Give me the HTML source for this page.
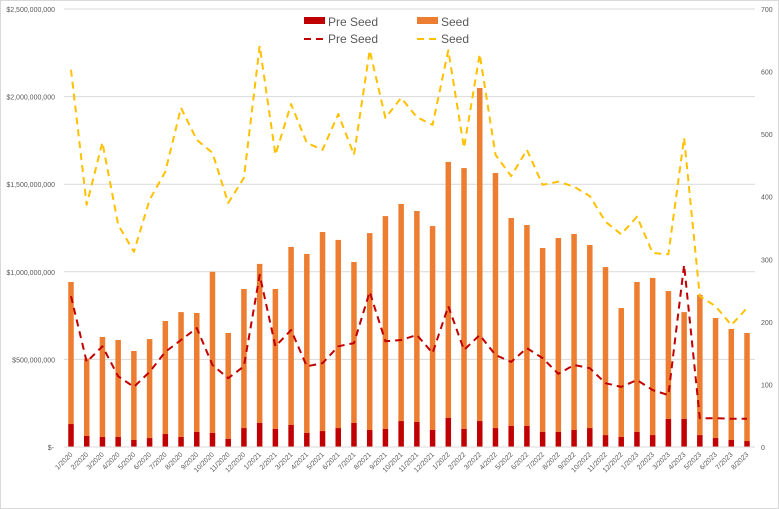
<!DOCTYPE html>
<html><head><meta charset="utf-8"><style>
html,body{margin:0;padding:0;background:#fff;}
svg{display:block;font-family:"Liberation Sans",sans-serif;}
</style></head><body>
<svg id="chart" width="779" height="509" xmlns="http://www.w3.org/2000/svg">
<rect x="0.5" y="0.5" width="778" height="508" fill="#fff" stroke="#d9d9d9"/>
<g id="grid"></g><g id="bars"></g><g id="lines"></g><g id="axes"></g>
<g font-size="12" fill="#595959">
<rect x="304" y="17" width="21" height="7" fill="#c00000"/>
<text x="328" y="26">Pre Seed</text>
<rect x="417" y="17" width="21" height="7" fill="#ed7d31"/>
<text x="441" y="26">Seed</text>
<line x1="304" y1="39" x2="325" y2="39" stroke="#c00000" stroke-width="2" stroke-dasharray="7,5"/>
<text x="328" y="43">Pre Seed</text>
<line x1="417" y1="39" x2="438" y2="39" stroke="#ffc000" stroke-width="2" stroke-dasharray="7,5"/>
<text x="441" y="43">Seed</text>
</g>
</svg>
<script>
const months=["1/2020","2/2020","3/2020","4/2020","5/2020","6/2020","7/2020","8/2020","9/2020","10/2020","11/2020","12/2020","1/2021","2/2021","3/2021","4/2021","5/2021","6/2021","7/2021","8/2021","9/2021","10/2021","11/2021","12/2021","1/2022","2/2022","3/2022","4/2022","5/2022","6/2022","7/2022","8/2022","9/2022","10/2022","11/2022","12/2022","1/2023","2/2023","3/2023","4/2023","5/2023","6/2023","7/2023","8/2023"];
// total amount (Pre Seed + Seed), millions USD
const totalAmount=[942,505,628,611,548,616,719,770,765,1000,651,902,1045,902,1142,1102,1227,1182,1056,1221,1318,1387,1347,1261,1627,1592,2049,1564,1307,1267,1136,1193,1216,1153,1027,793,942,965,890,770,868,736,674,651];
const preSeedAmount=[131,63,57,57,40,51,74,57,86,80,46,108,137,103,126,80,91,108,137,97,103,148,143,97,166,103,148,108,120,120,86,86,97,108,68,57,86,68,160,160,68,51,40,34];
const seedCount=[603,387,487,355,312,395,440,542,491,470,390,430,641,467,548,486,475,532,467,634,526,558,527,515,634,478,628,467,433,475,419,424,416,401,360,340,368,310,308,494,241,225,195,222];
const preSeedCount=[241,136,161,113,96,120,152,171,190,131,110,129,275,161,187,129,134,161,166,248,169,171,179,150,225,155,179,147,136,158,142,117,131,126,102,96,107,91,83,291,46,46,45,45];
const leftTicks=[0,500,1000,1500,2000,2500];
const leftTickLabels=["$-","$500,000,000","$1,000,000,000","$1,500,000,000","$2,000,000,000","$2,500,000,000"];
const rightTicks=[0,100,200,300,400,500,600,700];

const NS="http://www.w3.org/2000/svg";
const y0=447,yTop=9,xL=64,xR=755;
const yL=v=>y0-(v/2500)*(y0-yTop);
const yR=v=>y0-(v/700)*(y0-yTop);
const step=(747-71)/(months.length-1);
const xC=i=>71+i*step;
function mk(tag,attrs,parent){const e=document.createElementNS(NS,tag);for(const k in attrs)e.setAttribute(k,attrs[k]);parent.appendChild(e);return e;}
const grid=document.getElementById('grid'),bars=document.getElementById('bars'),lines=document.getElementById('lines'),axes=document.getElementById('axes');
leftTicks.forEach((t,i)=>{
  const g=mk('line',{x1:xL,x2:xR,y1:yL(t),y2:yL(t),stroke:'#d9d9d9','stroke-width':1},grid);
  
  
  const l=mk('text',{x:i===0?54:55,y:yL(t)+3,'text-anchor':'end','font-size':7,fill:'#595959'},axes);
  l.textContent=leftTickLabels[i];
  
  
});
rightTicks.forEach(t=>{
  const l=mk('text',{x:761,y:yR(t)+3,'font-size':7,fill:'#595959'},axes);
  l.textContent=t;
  
  
});
months.forEach((m,i)=>{
  const x=xC(i),w=5.5;
  const s=mk('rect',{x:x-w/2,y:yL(totalAmount[i]),width:w,height:yL(preSeedAmount[i])-yL(totalAmount[i]),fill:'#ed7d31'},bars);
  
  
  const p=mk('rect',{x:x-w/2,y:yL(preSeedAmount[i]),width:w,height:y0-yL(preSeedAmount[i]),fill:'#c00000'},bars);
  
  
  const t=mk('text',{x:x+2,y:455,'text-anchor':'end','font-size':7,fill:'#595959',transform:`rotate(-45 ${x+2} 455)`},axes);
  t.textContent=m;
  
  
});
const ax=mk('line',{x1:xL,x2:xR,y1:y0,y2:y0,stroke:'#d9d9d9'},axes);


function line(arr,color,name){
  const pts=arr.map((v,i)=>xC(i).toFixed(1)+','+yR(v).toFixed(1)).join(' ');
  const pl=mk('polyline',{points:pts,fill:'none',stroke:color,'stroke-width':2,'stroke-dasharray':'7,5','stroke-linejoin':'round'},lines);
  
  
}
line(seedCount,'#ffc000','line-seed-count');
line(preSeedCount,'#c00000','line-pre-seed-count');
</script>
</body></html>
